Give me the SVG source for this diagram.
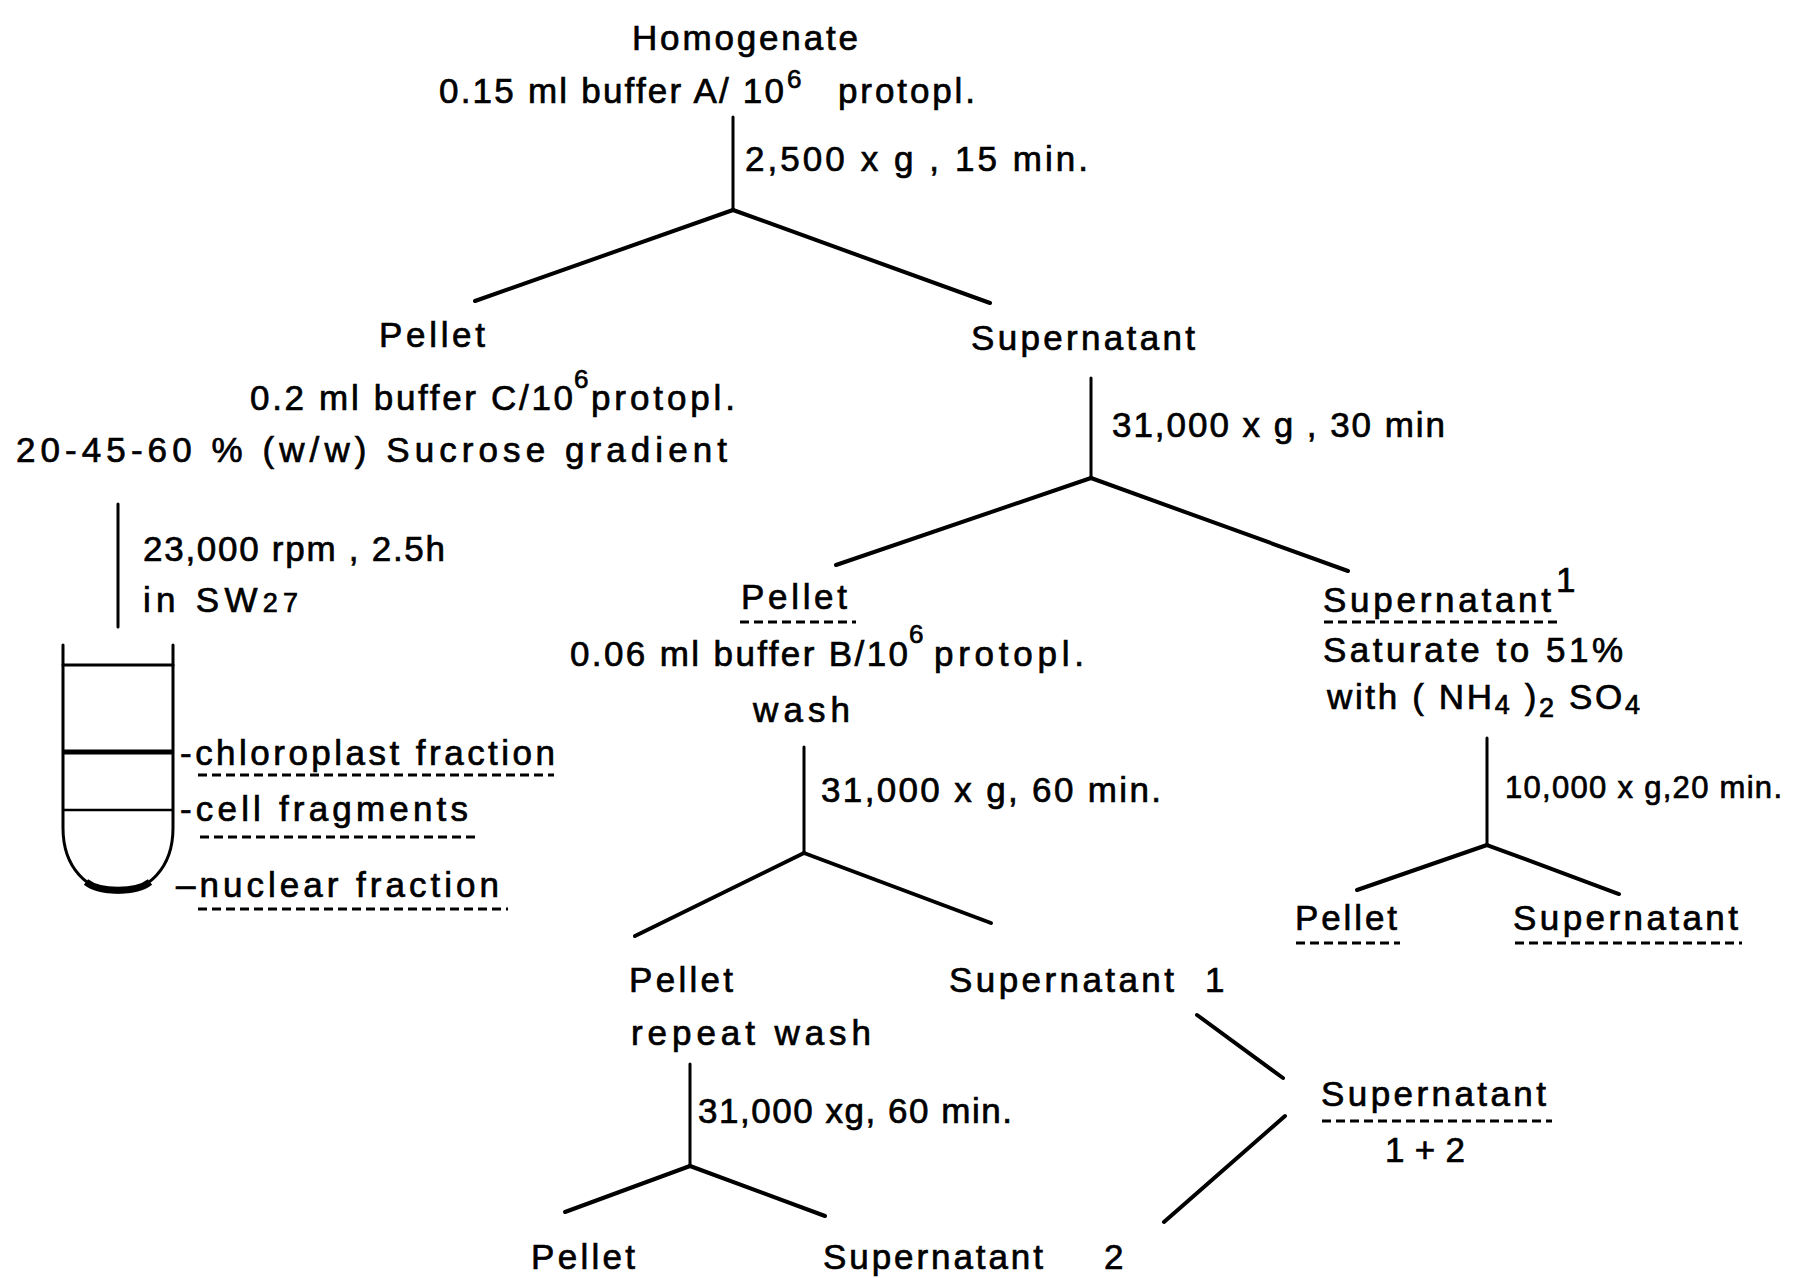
<svg xmlns="http://www.w3.org/2000/svg" width="1798" height="1278" viewBox="0 0 1798 1278">
<style>
text{font-family:"Liberation Sans","DejaVu Sans",sans-serif;font-size:35px;fill:#000;stroke:#000;stroke-width:0.7}
.s{font-size:31px}
.sup{font-size:26px}
.ln{stroke:#000;stroke-width:3;fill:none;stroke-linecap:round}
.br{stroke:#000;stroke-width:4;fill:none;stroke-linecap:round}
.ul{stroke:#000;stroke-width:3;stroke-dasharray:9 5;fill:none}
</style>
<rect width="1798" height="1278" fill="#fff"/>
<g id="connectors">
<line class="ln" x1="733" y1="117" x2="733" y2="210"/>
<line class="br" x1="733" y1="210" x2="475" y2="301"/>
<line class="br" x1="733" y1="210" x2="990" y2="303"/>
<line class="ln" x1="1091" y1="378" x2="1091" y2="478"/>
<line class="br" x1="1091" y1="478" x2="836" y2="565"/>
<line class="br" x1="1091" y1="478" x2="1348" y2="571"/>
<line class="ln" x1="118" y1="504" x2="118" y2="627"/>
<line class="ln" x1="804" y1="747" x2="804" y2="853"/>
<line class="br" x1="804" y1="853" x2="635" y2="936"/>
<line class="br" x1="804" y1="853" x2="991" y2="923"/>
<line class="ln" x1="690" y1="1064" x2="690" y2="1166"/>
<line class="br" x1="690" y1="1166" x2="565" y2="1212"/>
<line class="br" x1="690" y1="1166" x2="825" y2="1216"/>
<line class="ln" x1="1487" y1="738" x2="1487" y2="845"/>
<line class="br" x1="1487" y1="845" x2="1357" y2="890"/>
<line class="br" x1="1487" y1="845" x2="1619" y2="894"/>
<line class="br" x1="1197" y1="1015" x2="1283" y2="1078"/>
<line class="br" x1="1285" y1="1116" x2="1164" y2="1222"/>
</g>
<g id="homogenate">
<text x="632" y="50" textLength="226">Homogenate</text>
<text x="439" y="103" textLength="345">0.15 ml buffer A/ 10</text>
<text class="sup" x="787" y="88">6</text>
<text x="838" y="103" textLength="137">protopl.</text>
<text x="745" y="171" textLength="343">2,500 x g , 15 min.</text>
</g>
<g id="pellet1">
<text x="379" y="347" textLength="106">Pellet</text>
<text x="250" y="410" textLength="323">0.2 ml buffer C/10</text>
<text class="sup" x="574" y="388">6</text>
<text x="591" y="410" textLength="144">protopl.</text>
<text x="16" y="462" textLength="711">20-45-60 % (w/w) Sucrose gradient</text>
<text x="143" y="561" textLength="302">23,000 rpm , 2.5h</text>
<text x="143" y="612" textLength="155">in SW<tspan font-size="27">27</tspan></text>
</g>
<g id="tube">
<path class="ln" d="M63,645 V828 C63,868 88,892 118,892 C148,892 173,868 173,828 V645"/>
<line class="ln" x1="63" y1="665" x2="173" y2="665"/>
<line x1="63" y1="752" x2="173" y2="752" stroke="#000" stroke-width="5"/>
<line x1="63" y1="810" x2="173" y2="810" stroke="#000" stroke-width="2.5"/>
<path d="M86,882 C100,893 136,893 150,882" stroke="#000" stroke-width="7" fill="none"/>
<text x="180" y="765" textLength="375">-chloroplast fraction</text>
<line class="ul" x1="198" y1="775" x2="554" y2="775"/>
<text x="180" y="821" textLength="288">-cell fragments</text>
<line class="ul" x1="200" y1="837" x2="479" y2="837"/>
<text x="176" y="897" textLength="323">–nuclear fraction</text>
<line class="ul" x1="198" y1="909" x2="508" y2="909"/>
</g>
<g id="supernatant1">
<text x="971" y="350" textLength="224">Supernatant</text>
<text x="1112" y="437" textLength="333">31,000 x g , 30 min</text>
</g>
<g id="pellet2">
<text x="741" y="609" textLength="106">Pellet</text>
<line class="ul" x1="740" y1="622" x2="856" y2="622"/>
<text x="570" y="666" textLength="338">0.06 ml buffer B/10</text>
<text class="sup" x="909" y="643">6</text>
<text x="934" y="666" textLength="150">protopl.</text>
<text x="753" y="722" textLength="97">wash</text>
<text x="821" y="802" textLength="340">31,000 x g, 60 min.</text>
</g>
<g id="pellet3">
<text x="629" y="992" textLength="104">Pellet</text>
<text x="631" y="1045" textLength="240">repeat wash</text>
<text x="698" y="1123" textLength="314">31,000 xg, 60 min.</text>
</g>
<g id="supernatant-1">
<text x="949" y="992" textLength="225">Supernatant</text>
<text x="1205" y="992">1</text>
</g>
<g id="pellet4">
<text x="531" y="1269" textLength="104">Pellet</text>
</g>
<g id="supernatant-2">
<text x="823" y="1269" textLength="220">Supernatant</text>
<text x="1104" y="1269">2</text>
</g>
<g id="supernatant-1-2">
<text x="1321" y="1106" textLength="225">Supernatant</text>
<line class="ul" x1="1322" y1="1121" x2="1552" y2="1121"/>
<text x="1385" y="1162" textLength="80">1 + 2</text>
</g>
<g id="supernatant2">
<text x="1323" y="612" textLength="228">Supernatant</text>
<text x="1556" y="592" font-size="20">1</text>
<line class="ul" x1="1324" y1="622" x2="1560" y2="622"/>
<text x="1323" y="662" textLength="300">Saturate to 51%</text>
<text x="1327" y="709" textLength="313">with ( NH<tspan dy="5" font-size="27">4</tspan><tspan dy="-5"> )</tspan><tspan dy="8" font-size="27">2</tspan><tspan dy="-8"> SO</tspan><tspan dy="5" font-size="27">4</tspan></text>
<text class="s" x="1505" y="798" textLength="277">10,000 x g,20 min.</text>
</g>
<g id="pellet5">
<text x="1295" y="930" textLength="102">Pellet</text>
<line class="ul" x1="1296" y1="943" x2="1400" y2="943"/>
</g>
<g id="supernatant3">
<text x="1513" y="930" textLength="225">Supernatant</text>
<line class="ul" x1="1515" y1="943" x2="1742" y2="943"/>
</g>
</svg>
